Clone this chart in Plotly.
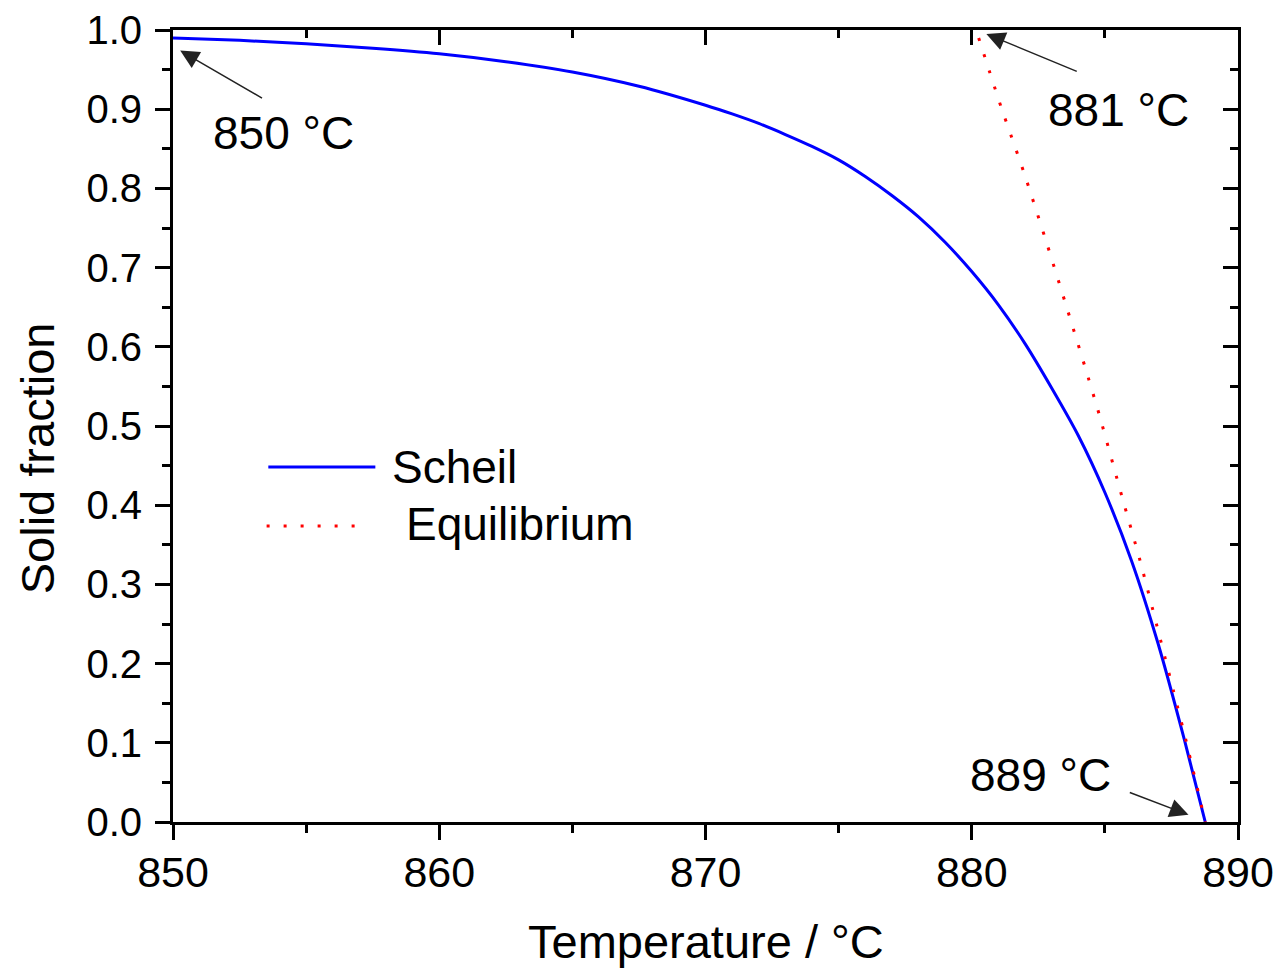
import plotly.graph_objects as go

# Scheil solidification path: temperature (°C) and solid fraction
scheil_T = [850.0, 852.5, 855.0, 857.5, 860.0, 862.5, 865.0, 867.5, 870.0, 871.0,
            872.0, 873.0, 874.0, 875.0, 876.0, 877.0, 878.0, 879.0, 880.0, 881.0,
            882.0, 883.0, 884.0, 885.0, 886.0, 887.0, 888.0, 888.77]
scheil_fs = [0.990, 0.987, 0.9825, 0.977, 0.970, 0.960, 0.947, 0.929, 0.905, 0.894,
             0.882, 0.868, 0.853, 0.836, 0.815, 0.791, 0.764, 0.732, 0.695, 0.653,
             0.604, 0.548, 0.488, 0.416, 0.330, 0.225, 0.102, 0.0]

# Equilibrium (lever rule) solidification path
equil_T = [880.26, 881.1, 881.95, 882.74, 883.5, 884.25, 884.8, 885.64, 886.33,
           886.96, 887.58, 888.06, 888.77]
equil_fs = [0.990, 0.903, 0.821, 0.739, 0.657, 0.575, 0.513, 0.411, 0.329,
            0.247, 0.165, 0.101, 0.0]

# Marked temperatures: (label, arrow head T, head fs, arrow tail T, tail fs, text T, text fs)
marks = [
    ("850 °C", 850.27, 0.974, 853.4, 0.913, 854.14, 0.870),
    ("881 °C", 880.55, 0.995, 884.0, 0.947, 885.5, 0.899),
    ("889 °C", 888.14, 0.009, 885.88, 0.038, 882.58, 0.059),
]

x_ticks = [850, 860, 870, 880, 890]
y_ticks = [0.0, 0.1, 0.2, 0.3, 0.4, 0.5, 0.6, 0.7, 0.8, 0.9, 1.0]

FONT = "Arial, Liberation Sans, sans-serif"

fig = go.Figure()
fig.add_trace(go.Scatter(x=scheil_T, y=scheil_fs, mode="lines", name="Scheil",
                         line=dict(color="#0000FF", width=3, shape="spline", smoothing=0.6),
                         showlegend=False))
fig.add_trace(go.Scatter(x=equil_T, y=equil_fs, mode="lines", name="Equilibrium",
                         line=dict(color="#FF0000", width=3, dash="3px,14px",
                                   shape="spline", smoothing=0.6),
                         showlegend=False))
# empty trace so the mirrored top/right axes are drawn
fig.add_trace(go.Scatter(x=[], y=[], xaxis="x2", yaxis="y2", showlegend=False,
                         hoverinfo="skip"))

common = dict(showgrid=False, zeroline=False, showline=True, linecolor="black",
              linewidth=3, tickcolor="black", tickwidth=2.5, ticklen=15,
              automargin=False)

fig.update_layout(
    width=1278, height=970,
    margin=dict(l=173, r=40, t=30, b=148),
    paper_bgcolor="white", plot_bgcolor="white",
    font=dict(family=FONT, color="black"),
    xaxis=dict(range=[850, 890], tickvals=x_ticks, ticktext=[str(v) for v in x_ticks],
               ticks="outside", tickfont=dict(size=43, family=FONT),
               ticklabelstandoff=-5,
               minor=dict(dtick=5, tick0=850, ticks="outside", ticklen=8,
                          tickwidth=2.5, tickcolor="black"),
               **common),
    yaxis=dict(range=[0, 1.0], tickvals=y_ticks, ticktext=[f"{v:.1f}" for v in y_ticks],
               ticks="outside", tickfont=dict(size=40, family=FONT),
               ticklabelstandoff=5,
               minor=dict(dtick=0.05, tick0=0, ticks="outside", ticklen=8,
                          tickwidth=2.5, tickcolor="black"),
               **common),
    xaxis2=dict(range=[850, 890], overlaying="x", side="top", tickvals=x_ticks,
                showticklabels=False, ticks="inside",
                minor=dict(dtick=5, tick0=850, ticks="inside", ticklen=8,
                           tickwidth=2.5, tickcolor="black"),
                **common),
    yaxis2=dict(range=[0, 1.0], overlaying="y", side="right", tickvals=y_ticks,
                showticklabels=False, ticks="inside",
                minor=dict(dtick=0.05, tick0=0, ticks="inside", ticklen=8,
                           tickwidth=2.5, tickcolor="black"),
                **common),
)

annotations = []
for label, hx, hy, tx, ty, lx, ly in marks:
    annotations.append(dict(x=hx, y=hy, ax=tx, ay=ty, xref="x", yref="y",
                            axref="x", ayref="y", text="", showarrow=True,
                            arrowhead=2, arrowsize=2.5, arrowwidth=1.5,
                            arrowcolor="#222222", standoff=0, startstandoff=0))
    annotations.append(dict(x=lx, y=ly, xref="x", yref="y", text=label,
                            xanchor="center", yanchor="middle",
                            showarrow=False, font=dict(size=46, family=FONT)))

# axis titles
annotations.append(dict(x=0.5, y=-0.1515, xref="paper", yref="paper",
                        xanchor="center", yanchor="middle",
                        text="Temperature / °C", showarrow=False,
                        font=dict(size=47, family=FONT)))
annotations.append(dict(x=-0.1265, y=0.4596, xref="paper", yref="paper",
                        xanchor="center", yanchor="middle",
                        text="Solid fraction", textangle=-90, showarrow=False,
                        font=dict(size=47, family=FONT)))

# legend
annotations.append(dict(x=0.204, y=0.4482, xref="paper", yref="paper", text="Scheil",
                        xanchor="left", yanchor="middle", showarrow=False,
                        font=dict(size=46, family=FONT)))
annotations.append(dict(x=0.2172, y=0.376, xref="paper", yref="paper", text="Equilibrium",
                        xanchor="left", yanchor="middle", showarrow=False,
                        font=dict(size=46, family=FONT)))
fig.update_layout(annotations=annotations)

fig.add_shape(type="line", xref="paper", yref="paper", x0=0.0895, x1=0.19,
              y0=0.4482, y1=0.4482, line=dict(color="#0000FF", width=3))
fig.add_shape(type="line", xref="paper", yref="paper", x0=0.0879, x1=0.1834,
              y0=0.3737, y1=0.3737, line=dict(color="#FF0000", width=3, dash="3px,14px"))

fig.write_html("out.html")
